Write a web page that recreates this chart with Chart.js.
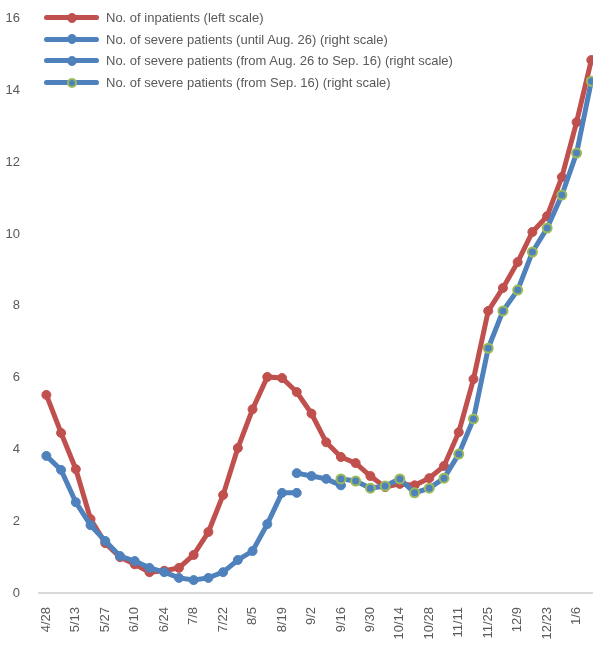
<!DOCTYPE html>
<html>
<head>
<meta charset="utf-8">
<script src="https://cdn.jsdelivr.net/npm/chart.js@4/dist/chart.umd.min.js"></script>
<style>
    html, body { margin: 0; padding: 0; background: #fff; overflow: hidden; }
    #wrap { position: relative; width: 613px; height: 649px; }
    #legend { position: absolute; left: 44px; top: 7px; font-family: "Liberation Sans", Arial, sans-serif; font-size: 13px; color: #595959; }
    .item { display: flex; align-items: center; height: 21.6px; }
    .swatch { position: relative; width: 55px; height: 5px; border-radius: 3px; margin-right: 7px; }
    .dot { position: absolute; left: 23px; top: -2.5px; width: 10px; height: 10px; border-radius: 50%; box-sizing: border-box; }
</style>
</head>
<body>
<div id="wrap">
    <canvas id="chart" width="613" height="649"></canvas>
    <div id="legend"></div>
</div>
<script>
// weekly categories, only every other one gets a tick label
const categories = ['4/28', '5/6', '5/13', '5/20', '5/27', '6/3', '6/10', '6/17', '6/24', '7/1',
    '7/8', '7/15', '7/22', '7/29', '8/5', '8/12', '8/19', '8/26', '9/2', '9/9',
    '9/16', '9/23', '9/30', '10/7', '10/14', '10/21', '10/28', '11/4', '11/11', '11/18',
    '11/25', '12/2', '12/9', '12/16', '12/23', '12/30', '1/6', '1/13'];

const inpatients = [5.52, 4.46, 3.45, 2.06, 1.39, 1.0, 0.8, 0.58, 0.62, 0.7,
    1.06, 1.7, 2.73, 4.04, 5.12, 6.02, 5.99, 5.6, 5.0, 4.2,
    3.79, 3.62, 3.26, 2.95, 3.04, 3.0, 3.2, 3.54, 4.48, 5.96,
    7.86, 8.5, 9.22, 10.06, 10.5, 11.59, 13.12, 14.85];

const severeUntilAug26 = [3.82, 3.43, 2.53, 1.89, 1.45, 1.03, 0.89, 0.7, 0.58, 0.42,
    0.36, 0.42, 0.58, 0.92, 1.17, 1.92, 2.79, 2.79];

const severeAug26toSep16 = [null, null, null, null, null, null, null, null, null, null,
    null, null, null, null, null, null, null, 3.34, 3.26, 3.18, 3.0];

const severeFromSep16 = [null, null, null, null, null, null, null, null, null, null,
    null, null, null, null, null, null, null, null, null, null,
    3.18, 3.12, 2.92, 2.98, 3.18, 2.79, 2.92, 3.2, 3.87, 4.85,
    6.82, 7.86, 8.44, 9.5, 10.17, 11.09, 12.26, 14.26];

const yTicks = [0, 2, 4, 6, 8, 10, 12, 14, 16];

const RED = '#c0504d', BLUE = '#4f81bd', GREEN = '#9bbb59';

const datasets = [
    { label: 'No. of inpatients (left scale)', data: inpatients, yAxisID: 'y',
      borderColor: RED, backgroundColor: RED, pointBorderColor: RED, order: 4 },
    { label: 'No. of severe patients (until Aug. 26) (right scale)', data: severeUntilAug26, yAxisID: 'y1',
      borderColor: BLUE, backgroundColor: BLUE, pointBorderColor: BLUE, order: 3 },
    { label: 'No. of severe patients (from Aug. 26 to Sep. 16) (right scale)', data: severeAug26toSep16, yAxisID: 'y1',
      borderColor: BLUE, backgroundColor: BLUE, pointBorderColor: BLUE, order: 2 },
    { label: 'No. of severe patients (from Sep. 16) (right scale)', data: severeFromSep16, yAxisID: 'y1',
      borderColor: BLUE, backgroundColor: BLUE, pointBorderColor: GREEN, pointBorderWidth: 2, order: 1 }
].map(d => Object.assign({
    borderWidth: 5, pointRadius: 4.5, pointBorderWidth: 1, tension: 0, spanGaps: false
}, d));

// html legend, line with marker like the original
const legend = document.getElementById('legend');
datasets.forEach(d => {
    const row = document.createElement('div');
    row.className = 'item';
    row.innerHTML = `<span class="swatch" style="background:${d.borderColor}">` +
        `<span class="dot" style="background:${d.backgroundColor};border:${d.pointBorderWidth}px solid ${d.pointBorderColor}"></span></span>` +
        `<span>${d.label}</span>`;
    legend.appendChild(row);
});

const tickFont = { family: '"Liberation Sans", Arial, sans-serif', size: 13 };

new Chart(document.getElementById('chart'), {
    type: 'line',
    data: { labels: categories, datasets: datasets },
    options: {
        responsive: false,
        animation: false,
        layout: { padding: { top: 12, right: 5, left: 0, bottom: 0 } },
        plugins: { legend: { display: false }, tooltip: { enabled: false } },
        scales: {
            x: {
                offset: true,
                grid: { display: false },
                border: { color: '#d9d9d9', width: 2 },
                ticks: {
                    color: '#595959', font: tickFont, autoSkip: false,
                    minRotation: 90, maxRotation: 90, padding: 6,
                    callback: (v, i) => i % 2 === 0 ? categories[i] : ''
                },
                afterFit: s => { s.height = 56; }
            },
            y: {
                min: 0, max: 16,
                grid: { display: false },
                border: { display: false },
                afterBuildTicks: s => { s.ticks = yTicks.map(v => ({ value: v })); },
                ticks: { color: '#595959', font: tickFont, padding: 11 },
                afterFit: s => { s.width = 39; }
            },
            y1: { display: false, min: 0, max: 16 }
        }
    }
});
</script>
</body>
</html>
